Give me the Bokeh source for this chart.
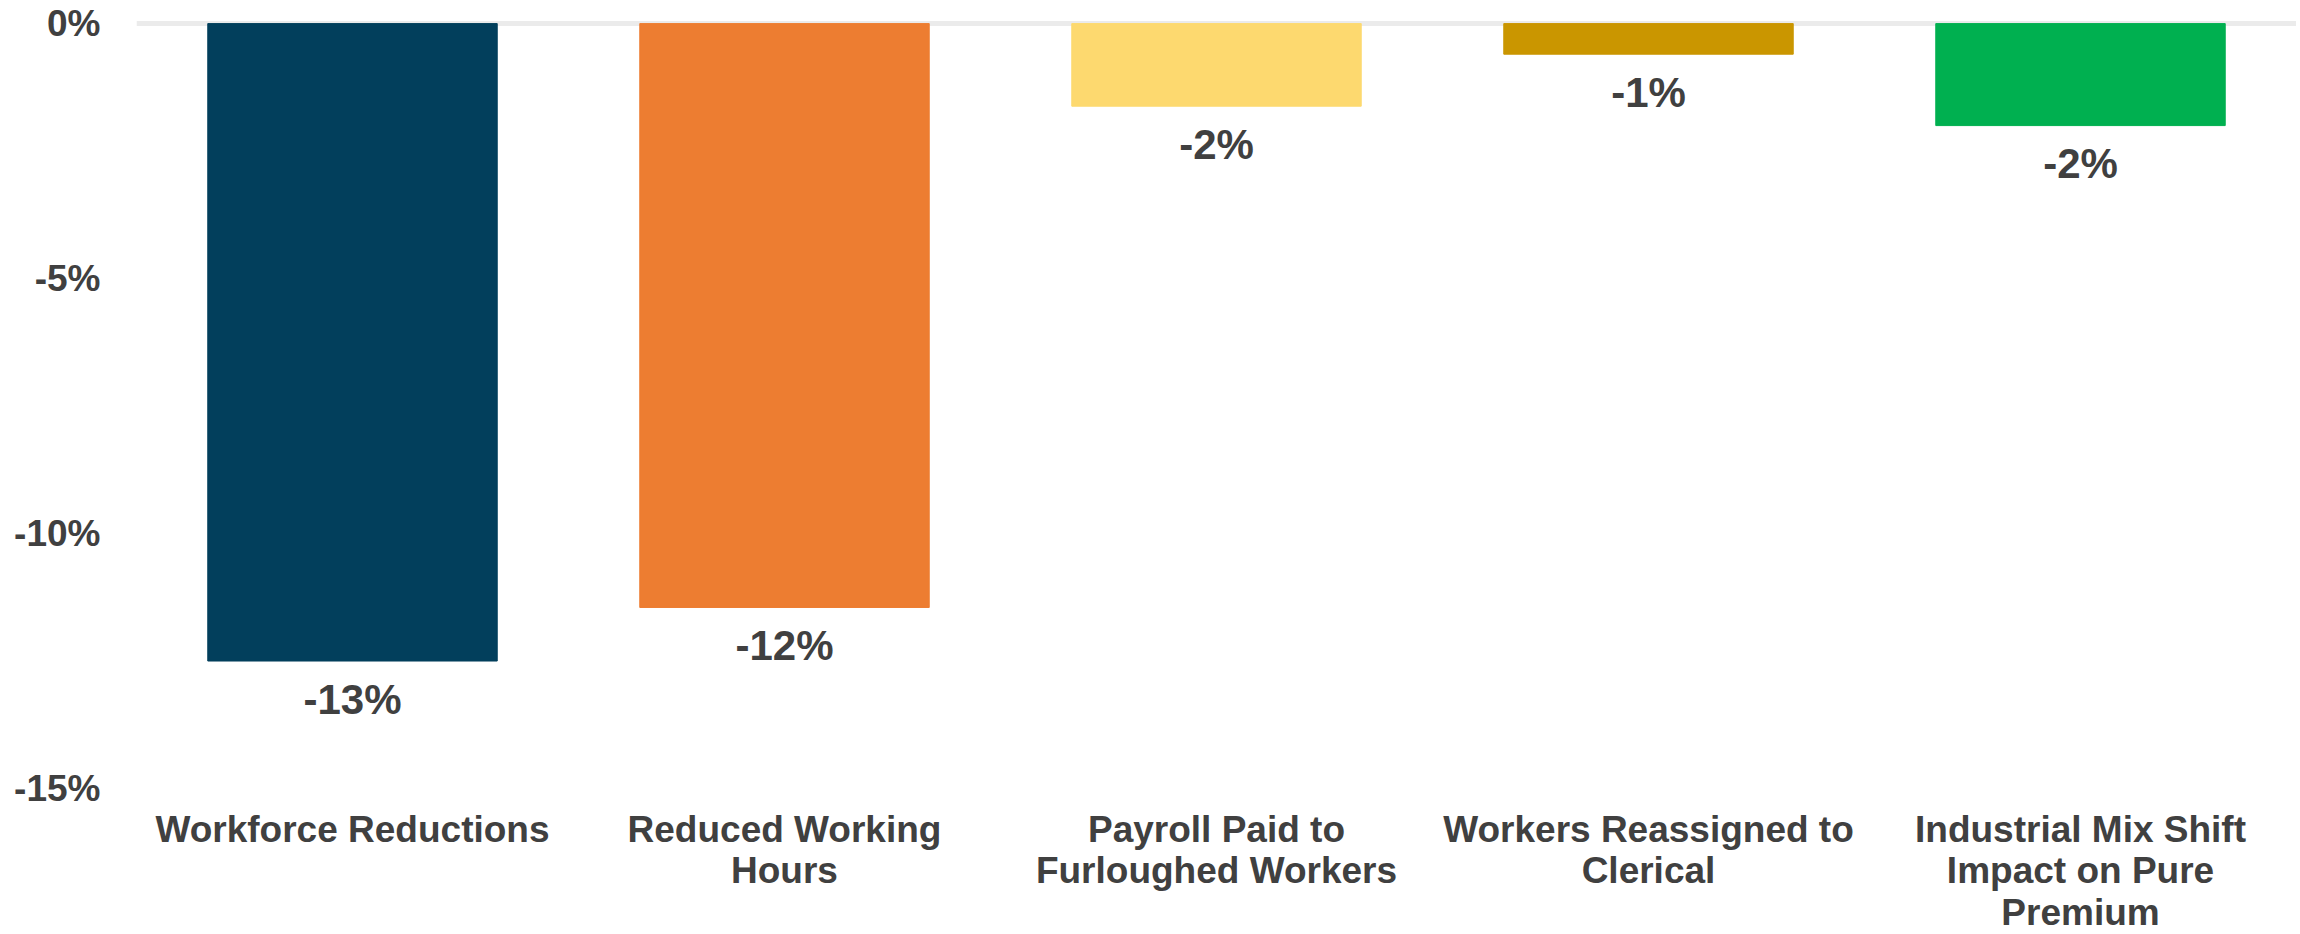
from bokeh.plotting import figure
from bokeh.models import ColumnDataSource, FixedTicker, CustomJSTickFormatter
from bokeh.core.properties import value
from bokeh.embed import file_html
from bokeh.resources import INLINE

categories = [
    "Workforce Reductions",
    "Reduced Working\nHours",
    "Payroll Paid to\nFurloughed Workers",
    "Workers Reassigned to\nClerical",
    "Industrial Mix Shift\nImpact on Pure\nPremium",
]
values = [-12.5, -11.45, -1.62, -0.6, -2.0]
value_labels = ["-13%", "-12%", "-2%", "-1%", "-2%"]
colors = ["#023F5C", "#ED7D31", "#FDD96F", "#CA9600", "#00B050"]
y_ticks = [0, -5, -10, -15]

FONT = "Liberation Sans"
TEXT = "#404040"

src = ColumnDataSource(dict(cat=categories, val=values, lab=value_labels, col=colors))

p = figure(
    x_range=categories,
    y_range=(-15, 0.1),
    frame_width=2160,
    frame_height=770,
    output_backend="svg",
    toolbar_location=None,
    min_border_left=136,
    min_border_right=0,
    min_border_top=18,
    min_border_bottom=0,
    outline_line_color=None,
)

p.vbar(x="cat", top="val", bottom=0, width=0.67, color="col", source=src)

p.text(
    x="cat", y="val", text="lab", source=src,
    text_font=value(FONT), text_font_style="bold", text_font_size="42px",
    text_color=TEXT, text_align="center", text_baseline="middle", y_offset=38,
)

p.xgrid.grid_line_color = None
p.ygrid.ticker = FixedTicker(ticks=[0])
p.ygrid.grid_line_color = "#EBEBEB"
p.ygrid.grid_line_width = 5

p.yaxis.ticker = FixedTicker(ticks=y_ticks)
p.yaxis.formatter = CustomJSTickFormatter(code="return tick + '%';")
for ax in (p.xaxis[0], p.yaxis[0]):
    ax.axis_line_color = None
    ax.major_tick_line_color = None
    ax.minor_tick_line_color = None
    ax.major_label_text_font = FONT
    ax.major_label_text_font_style = "bold"
    ax.major_label_text_font_size = "37px"
    ax.major_label_text_color = TEXT

p.yaxis.major_label_standoff = 30
p.xaxis.major_label_standoff = 14
p.xaxis.major_label_text_line_height = 1.02

open("out.html", "w").write(file_html(p, INLINE))
